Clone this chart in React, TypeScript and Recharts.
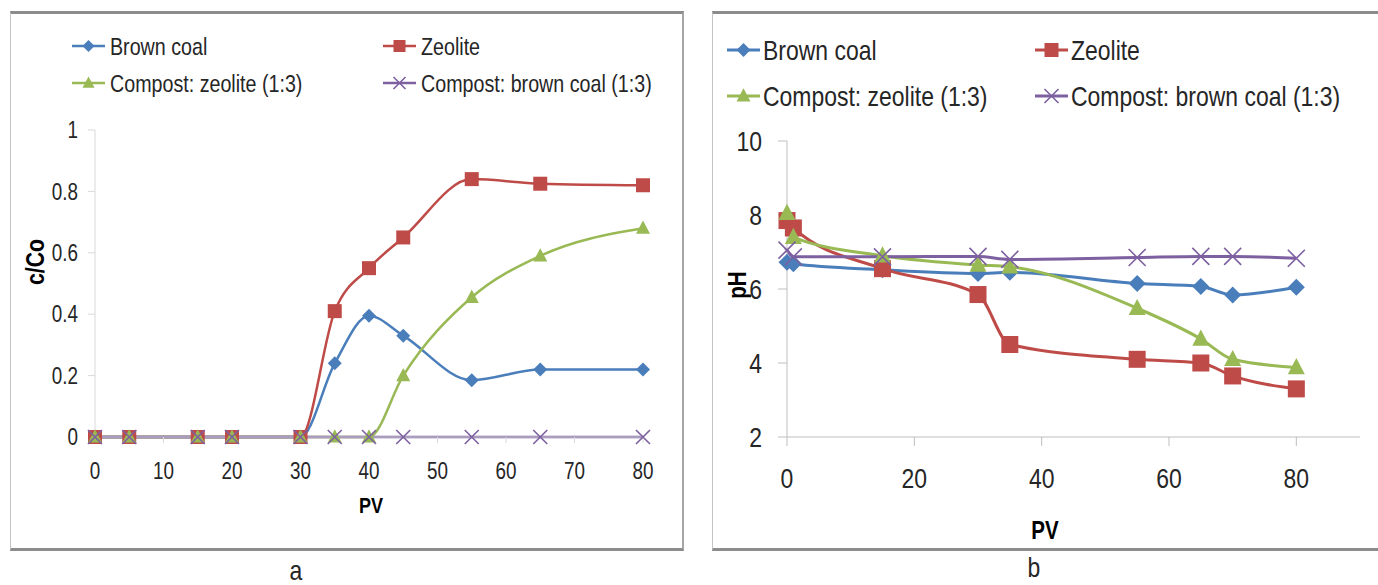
import { LineChart, Line, XAxis, YAxis } from "recharts";

const FONT = '"Liberation Sans", Arial, sans-serif';
const SQ = 0.82; // horizontal squeeze to mimic a narrow face
const BLUE = "#4A7EBB";
const RED = "#BE4B48";
const GREEN = "#98B954";
const PURPLE = "#7D60A0";
const AXIS = "#BFBFBF";
const TEXT = "#262626";

// chart a: breakthrough c/Co vs PV
const pvA = [0, 5, 15, 20, 30, 35, 40, 45, 55, 65, 80];
const brownCoalA = [0, 0, 0, 0, 0, 0.24, 0.395, 0.33, 0.185, 0.22, 0.22];
const zeoliteA = [0, 0, 0, 0, 0, 0.41, 0.55, 0.65, 0.84, 0.825, 0.82];
const compZeoliteA = [0, 0, 0, 0, 0, 0, 0, 0.2, 0.455, 0.59, 0.68];
const compBrownCoalA = [0, 0, 0, 0, 0, 0, 0, 0, 0, 0, 0];
const xTicksA = [0, 10, 20, 30, 40, 50, 60, 70, 80];
const yTicksA = [0, 0.2, 0.4, 0.6, 0.8, 1];

// chart b: pH vs PV
const pvB = [0, 1, 15, 30, 35, 55, 65, 70, 80];
const brownCoalB = [6.72, 6.68, 6.52, 6.42, 6.45, 6.15, 6.07, 5.84, 6.05];
const zeoliteB = [7.85, 7.65, 6.55, 5.85, 4.5, 4.1, 4.0, 3.65, 3.3];
const compZeoliteB = [8.05, 7.4, 6.9, 6.65, 6.6, 5.48, 4.65, 4.1, 3.88];
const compBrownCoalB = [7.05, 6.87, 6.87, 6.88, 6.8, 6.85, 6.88, 6.88, 6.83];
const xTicksB = [0, 20, 40, 60, 80];
const yTicksB = [2, 4, 6, 8, 10];

type Shape = "diamond" | "square" | "triangle" | "cross";

const SERIES: { key: string; name: string; color: string; shape: Shape }[] = [
  { key: "bc", name: "Brown coal", color: BLUE, shape: "diamond" },
  { key: "ze", name: "Zeolite", color: RED, shape: "square" },
  { key: "cz", name: "Compost: zeolite (1:3)", color: GREEN, shape: "triangle" },
  { key: "cb", name: "Compost: brown coal (1:3)", color: PURPLE, shape: "cross" },
];

const dataA = pvA.map((pv, i) => ({
  pv,
  bc: brownCoalA[i],
  ze: zeoliteA[i],
  cz: compZeoliteA[i],
  cb: compBrownCoalA[i],
}));

const dataB = pvB.map((pv, i) => ({
  pv,
  bc: brownCoalB[i],
  ze: zeoliteB[i],
  cz: compZeoliteB[i],
  cb: compBrownCoalB[i],
}));

function Marker({ shape, x, y, s, color }: { shape: Shape; x: number; y: number; s: number; color: string }) {
  if (shape === "diamond")
    return <path d={`M${x} ${y - s}L${x + s} ${y}L${x} ${y + s}L${x - s} ${y}Z`} fill={color} />;
  if (shape === "square")
    return <rect x={x - s} y={y - s} width={2 * s} height={2 * s} fill={color} />;
  if (shape === "triangle")
    return <path d={`M${x} ${y - s * 1.1}L${x + s} ${y + s * 0.8}L${x - s} ${y + s * 0.8}Z`} fill={color} />;
  return (
    <path
      d={`M${x - s} ${y - s}L${x + s} ${y + s}M${x + s} ${y - s}L${x - s} ${y + s}`}
      stroke={color}
      strokeWidth={1.6}
      fill="none"
    />
  );
}

const dotFor = (shape: Shape, s: number, color: string) => (p: any) => (
  <g key={`dot-${p.index}`}>
    <Marker shape={shape} x={p.cx} y={p.cy} s={s} color={color} />
  </g>
);

// squeezed text, anchored at (x, y) with the given baseline shift in em
function NarrowText({
  x,
  y,
  size,
  anchor = "start",
  dy = "0.36em",
  bold = false,
  rotate = 0,
  fill = TEXT,
  children,
}: {
  x: number;
  y: number;
  size: number;
  anchor?: string;
  dy?: string;
  bold?: boolean;
  rotate?: number;
  fill?: string;
  children: React.ReactNode;
}) {
  return (
    <g transform={`translate(${x} ${y}) rotate(${rotate}) scale(${SQ} 1)`}>
      <text
        x={0}
        y={0}
        dy={dy}
        textAnchor={anchor as any}
        fontSize={size}
        fontWeight={bold ? "bold" : "normal"}
        fontFamily={FONT}
        fill={fill}
      >
        {children}
      </text>
    </g>
  );
}

const tickX = (size: number) => (p: any) => (
  <NarrowText x={p.x} y={p.y} size={size} anchor="middle" dy="0.71em">
    {p.payload.value}
  </NarrowText>
);

const tickY = (size: number) => (p: any) => (
  <NarrowText x={p.x} y={p.y} size={size} anchor="end" dy="0.355em">
    {p.payload.value}
  </NarrowText>
);

function LegendBlock({
  cols,
  rows,
  icon,
  gap,
  size,
  s,
  sw,
}: {
  cols: number[];
  rows: number[];
  icon: number;
  gap: number;
  size: number;
  s: number;
  sw: number;
}) {
  return (
    <g>
      {SERIES.map((d, i) => {
        const ix = cols[i % 2];
        const cy = rows[Math.floor(i / 2)];
        return (
          <g key={d.key}>
            <line x1={ix} x2={ix + icon} y1={cy} y2={cy} stroke={d.color} strokeWidth={sw} />
            <Marker shape={d.shape} x={ix + icon / 2} y={cy} s={s} color={d.color} />
            <NarrowText x={ix + icon + gap} y={cy} size={size}>
              {d.name}
            </NarrowText>
          </g>
        );
      })}
    </g>
  );
}

const frame: React.CSSProperties = {
  position: "absolute",
  boxSizing: "border-box",
  borderLeft: "1px solid #c4c4c4",
  borderRight: "2px solid #a6a6a6",
  borderTop: "3px solid #8c8c8c",
  borderBottom: "3px solid #8c8c8c",
  background: "#fff",
};

export default function App() {
  return (
    <div style={{ position: "relative", width: 1378, height: 585, background: "#fff", overflow: "hidden" }}>
      <style>{"body{margin:0}"}</style>
      <div style={{ ...frame, left: 10, top: 11, width: 674, height: 540 }} />
      <div style={{ ...frame, left: 712, top: 11, width: 700, height: 540 }} />

      <div style={{ position: "absolute", left: 0, top: 0 }}>
        <LineChart width={690} height={585} data={dataA} margin={{ top: 130, right: 47, bottom: 0, left: 25 }}>
          <XAxis
            type="number"
            dataKey="pv"
            domain={[0, 80]}
            ticks={xTicksA}
            interval={0}
            height={148}
            stroke="#D9D9D9"
            tickSize={6}
            tickMargin={20}
            tick={tickX(23)}
          />
          <YAxis
            domain={[0, 1]}
            ticks={yTicksA}
            interval={0}
            width={70}
            stroke="#D9D9D9"
            tickSize={7}
            tickMargin={10}
            tick={tickY(23)}
          />
          {SERIES.map((d) => (
            <Line
              key={d.key}
              type="monotone"
              dataKey={d.key}
              stroke={d.color}
              strokeWidth={2.5}
              dot={dotFor(d.shape, 7, d.color)}
              activeDot={false}
              isAnimationActive={false}
            />
          ))}
        </LineChart>
      </div>

      <div style={{ position: "absolute", left: 690, top: 0 }}>
        <LineChart width={688} height={585} data={dataB} margin={{ top: 141, right: 18, bottom: 0, left: 17 }}>
          <XAxis
            type="number"
            dataKey="pv"
            domain={[0, 90]}
            ticks={xTicksB}
            interval={0}
            height={148}
            stroke={AXIS}
            tickSize={9}
            tickMargin={22}
            tick={tickX(28)}
          />
          <YAxis
            domain={[2, 10]}
            ticks={yTicksB}
            interval={0}
            width={80}
            stroke={AXIS}
            tickSize={9}
            tickMargin={16}
            tick={tickY(28)}
          />
          {SERIES.map((d) => (
            <Line
              key={d.key}
              type="monotone"
              dataKey={d.key}
              stroke={d.color}
              strokeWidth={3}
              dot={dotFor(d.shape, 8.5, d.color)}
              activeDot={false}
              isAnimationActive={false}
            />
          ))}
        </LineChart>
      </div>

      <svg width={1378} height={585} style={{ position: "absolute", left: 0, top: 0, pointerEvents: "none" }}>
        <LegendBlock cols={[72, 383]} rows={[46, 83]} icon={33} gap={5} size={24} s={6} sw={2.5} />
        <LegendBlock cols={[727, 1035]} rows={[50, 96]} icon={33} gap={3} size={28} s={7} sw={3} />

        <NarrowText x={35} y={262} size={26} anchor="middle" bold rotate={-90} fill="#000">
          c/Co
        </NarrowText>
        <NarrowText x={371} y={505} size={22} anchor="middle" bold fill="#000">
          PV
        </NarrowText>
        <NarrowText x={737} y={285} size={25} anchor="middle" bold rotate={-90} fill="#000">
          pH
        </NarrowText>
        <NarrowText x={1045} y={530} size={25} anchor="middle" bold fill="#000">
          PV
        </NarrowText>

        <NarrowText x={296} y={570} size={28} anchor="middle">
          a
        </NarrowText>
        <NarrowText x={1034} y={567} size={28} anchor="middle">
          b
        </NarrowText>
      </svg>
    </div>
  );
}
